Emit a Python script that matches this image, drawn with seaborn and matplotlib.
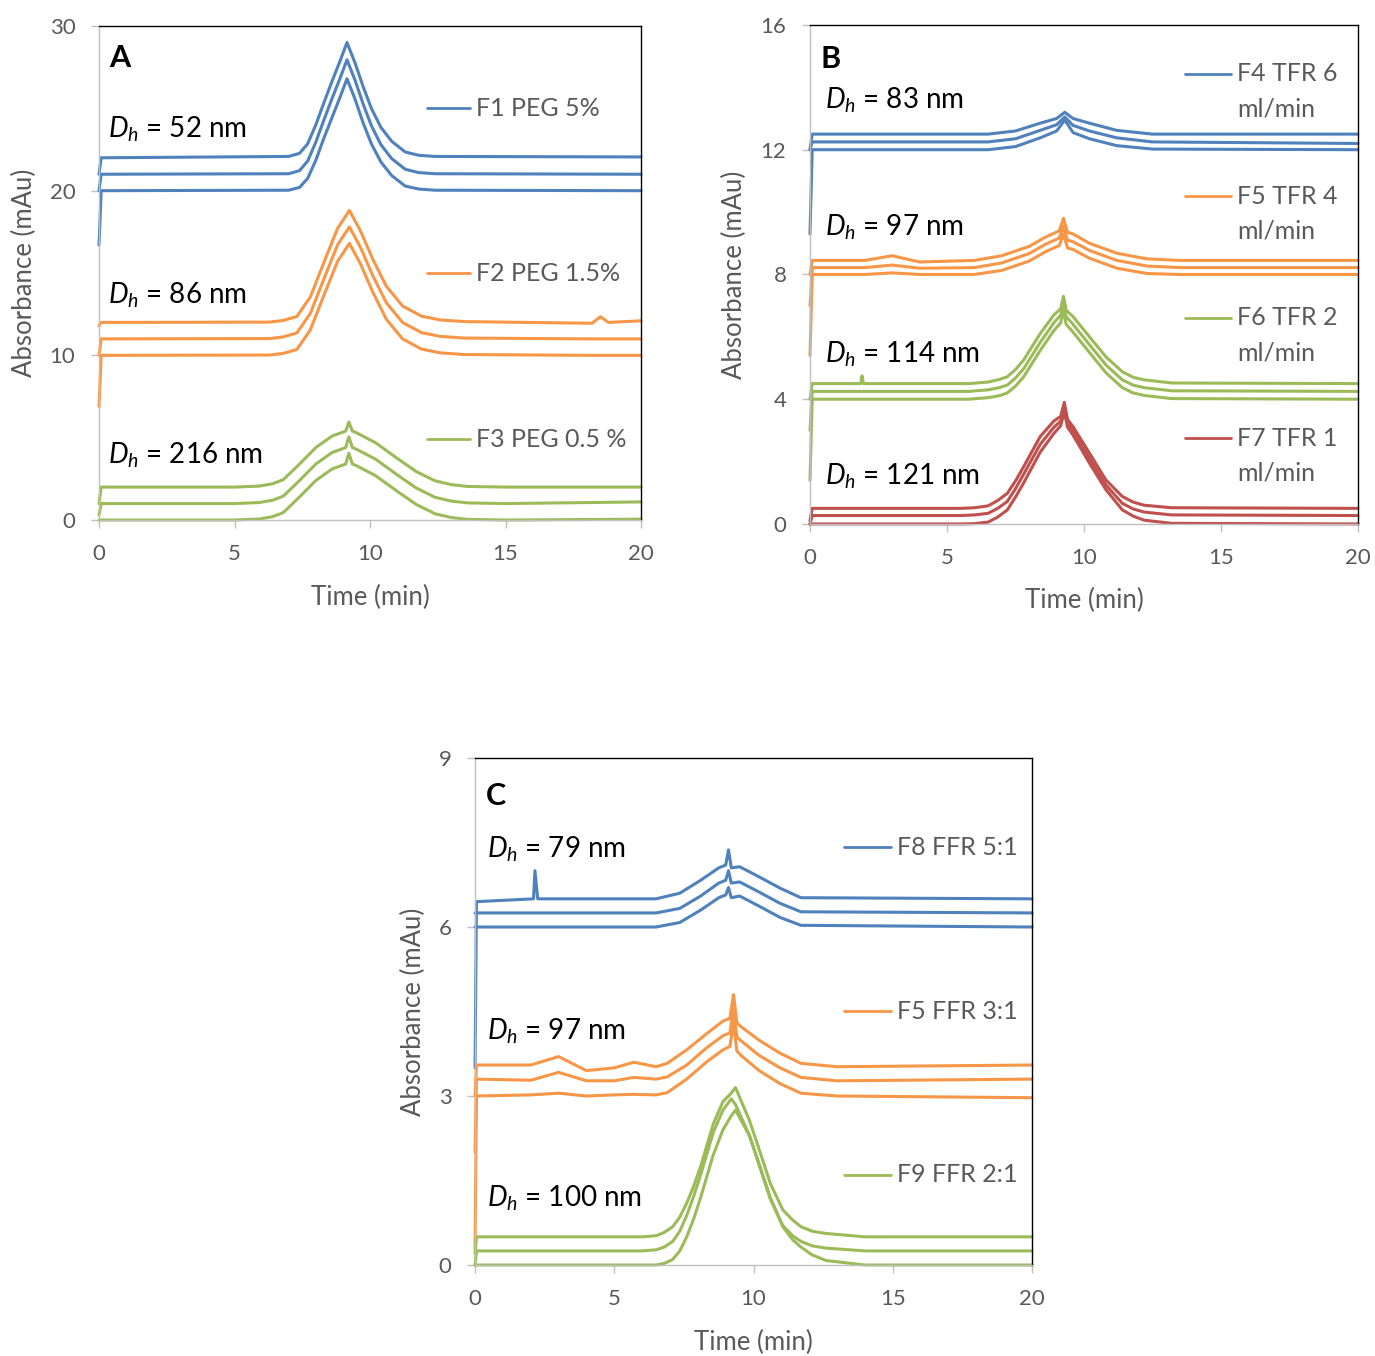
import numpy as np
import pandas as pd
import matplotlib
matplotlib.use('Agg')
import matplotlib.pyplot as plt
import seaborn as sns

# ---- panel A (PEG concentration) ----
t_f1 = [0, 0.08, 7.0, 7.4, 7.7, 8.0, 8.3, 8.6, 8.9, 9.15, 9.45, 9.75, 10.05, 10.4, 10.8, 11.3, 11.8, 12.4, 20]
f1_top = [21.0, 22.0, 22.08, 22.27, 22.85, 24.0, 25.35, 26.65, 27.9, 29.0, 27.75, 26.3, 25.0, 23.85, 23.0, 22.35, 22.15, 22.08, 22.05]
f1_mid = [20.0, 21.0, 21.03, 21.22, 21.8, 22.95, 24.3, 25.6, 26.85, 27.95, 26.7, 25.25, 23.95, 22.8, 21.95, 21.3, 21.1, 21.03, 21.0]
f1_low = [16.7, 20.0, 20.03, 20.2, 20.75, 21.85, 23.2, 24.45, 25.7, 26.8, 25.55, 24.1, 22.85, 21.75, 20.92, 20.28, 20.1, 20.03, 20.0]

t_f2 = [0, 0.08, 6.3, 6.8, 7.3, 7.8, 8.3, 8.8, 9.24, 9.65, 10.1, 10.6, 11.2, 11.9, 12.6, 13.5, 18.2, 18.5, 18.8, 20]
f2_top = [11.8, 12.0, 12.02, 12.12, 12.36, 13.55, 15.65, 17.7, 18.8, 17.55, 15.85, 14.2, 13.0, 12.38, 12.15, 12.05, 11.95, 12.35, 12.0, 12.1]
f2_mid = [10.0, 11.0, 11.02, 11.12, 11.36, 12.55, 14.65, 16.7, 17.8, 16.55, 14.85, 13.2, 12.0, 11.38, 11.15, 11.05, 11.0, 11.0, 11.0, 11.0]
f2_low = [6.9, 10.0, 10.02, 10.12, 10.36, 11.55, 13.65, 15.7, 16.8, 15.55, 13.85, 12.2, 11.0, 10.38, 10.15, 10.05, 10.0, 10.0, 10.0, 10.0]

t_f3 = [0, 0.08, 5.0, 5.9, 6.4, 6.8, 7.4, 8.0, 8.6, 9.1, 9.22, 9.35, 9.5, 10.2, 11.0, 11.7, 12.4, 13.0, 13.6, 15.0, 20]
f3_top = [1.0, 2.0, 2.0, 2.06, 2.2, 2.45, 3.4, 4.4, 5.1, 5.4, 5.95, 5.4, 5.3, 4.7, 3.75, 2.95, 2.38, 2.15, 2.04, 2.0, 2.0]
f3_mid = [0.3, 1.0, 1.0, 1.06, 1.2, 1.45, 2.4, 3.4, 4.1, 4.4, 5.05, 4.4, 4.3, 3.7, 2.75, 1.95, 1.38, 1.15, 1.04, 1.0, 1.1]
f3_low = [0.0, 0.0, 0.0, 0.06, 0.2, 0.45, 1.4, 2.4, 3.1, 3.4, 4.05, 3.4, 3.3, 2.7, 1.75, 0.95, 0.38, 0.15, 0.04, 0.0, 0.05]

# ---- panel B (total flow rate) ----
t_f4 = [0, 0.08, 6.5, 7.5, 8.4, 9.0, 9.3, 9.6, 10.2, 11.2, 12.5, 20]
f4_top = [12.0, 12.5, 12.5, 12.6, 12.85, 13.0, 13.2, 13.0, 12.85, 12.62, 12.5, 12.5]
f4_mid = [12.0, 12.25, 12.25, 12.35, 12.62, 12.8, 13.05, 12.78, 12.6, 12.38, 12.25, 12.2]
f4_low = [9.3, 12.0, 12.0, 12.1, 12.38, 12.6, 12.95, 12.55, 12.35, 12.13, 12.02, 12.0]

t_f5 = [0, 0.08, 2.0, 3.0, 4.0, 6.0, 7.0, 8.0, 8.6, 9.1, 9.25, 9.4, 9.6, 10.2, 11.2, 12.3, 13.5, 20]
f5_top = [8.0, 8.45, 8.45, 8.6, 8.4, 8.45, 8.6, 8.9, 9.2, 9.4, 9.8, 9.35, 9.3, 9.0, 8.68, 8.5, 8.45, 8.45]
f5_mid = [7.0, 8.22, 8.22, 8.3, 8.2, 8.22, 8.37, 8.67, 8.97, 9.17, 9.55, 9.1, 9.05, 8.77, 8.45, 8.27, 8.22, 8.22]
f5_low = [5.4, 8.0, 8.0, 8.05, 8.0, 8.0, 8.13, 8.43, 8.73, 8.93, 9.3, 8.85, 8.8, 8.52, 8.2, 8.03, 8.0, 8.0]

t_f6 = [0, 0.08, 1.85, 1.9, 1.95, 5.8, 6.5, 6.9, 7.2, 7.5, 7.8, 8.4, 8.9, 9.15, 9.25, 9.35, 9.6, 10.2, 10.8, 11.4, 11.8, 12.2, 13.2, 20]
f6_top = [4.0, 4.5, 4.5, 4.75, 4.5, 4.5, 4.55, 4.63, 4.72, 4.95, 5.26, 6.1, 6.7, 6.9, 7.3, 6.85, 6.65, 6.0, 5.36, 4.88, 4.7, 4.62, 4.52, 4.5]
f6_mid = [3.0, 4.25, 4.25, 4.25, 4.25, 4.25, 4.3, 4.37, 4.45, 4.68, 4.98, 5.82, 6.45, 6.7, 7.05, 6.65, 6.4, 5.75, 5.1, 4.62, 4.45, 4.37, 4.27, 4.25]
f6_low = [1.4, 4.0, 4.0, 4.0, 4.0, 4.0, 4.05, 4.11, 4.2, 4.42, 4.72, 5.56, 6.2, 6.45, 6.85, 6.4, 6.15, 5.5, 4.85, 4.37, 4.2, 4.12, 4.02, 4.0]

t_f7 = [0, 0.08, 5.5, 6.0, 6.5, 6.85, 7.2, 7.5, 7.8, 8.4, 8.9, 9.15, 9.28, 9.4, 9.6, 10.2, 10.8, 11.4, 11.8, 12.2, 13.2, 20]
f7_top = [0.1, 0.5, 0.5, 0.52, 0.58, 0.75, 0.98, 1.38, 1.84, 2.8, 3.3, 3.45, 3.9, 3.35, 3.12, 2.27, 1.41, 0.88, 0.7, 0.6, 0.52, 0.5]
f7_mid = [0.0, 0.27, 0.27, 0.29, 0.34, 0.5, 0.72, 1.13, 1.6, 2.55, 3.1, 3.3, 3.75, 3.25, 3.0, 2.1, 1.25, 0.66, 0.48, 0.38, 0.29, 0.27]
f7_low = [0.0, 0.0, 0.0, 0.01, 0.06, 0.22, 0.45, 0.86, 1.32, 2.3, 2.9, 3.15, 3.6, 3.1, 2.85, 1.95, 1.1, 0.45, 0.25, 0.12, 0.02, 0.0]

# ---- panel C (flow rate ratio) ----
t_f8 = [0, 0.05, 2.1, 2.15, 2.25, 6.5, 7.35, 8.1, 8.75, 9.0, 9.1, 9.2, 9.5, 10.2, 10.95, 11.7, 20]
f8_top = [3.5, 6.45, 6.5, 7.0, 6.5, 6.5, 6.6, 6.83, 7.05, 7.1, 7.37, 7.05, 7.07, 6.89, 6.69, 6.52, 6.5]
f8_mid = [6.25, 6.25, 6.25, 6.25, 6.25, 6.25, 6.33, 6.55, 6.78, 6.83, 7.0, 6.78, 6.8, 6.62, 6.42, 6.27, 6.25]
f8_low = [6.0, 6.0, 6.0, 6.0, 6.0, 6.0, 6.08, 6.3, 6.52, 6.57, 6.7, 6.52, 6.55, 6.37, 6.17, 6.03, 6.0]

t_f5c = [0, 0.05, 2.0, 3.0, 4.0, 5.0, 5.7, 6.5, 6.9, 7.6, 8.3, 8.9, 9.15, 9.28, 9.4, 9.55, 10.2, 10.95, 11.7, 13, 20]
f5c_top = [3.0, 3.55, 3.55, 3.7, 3.45, 3.5, 3.6, 3.52, 3.58, 3.82, 4.1, 4.33, 4.38, 4.8, 4.3, 4.23, 3.99, 3.76, 3.58, 3.52, 3.55]
f5c_mid = [2.0, 3.3, 3.28, 3.42, 3.27, 3.27, 3.33, 3.3, 3.34, 3.55, 3.85, 4.07, 4.12, 4.55, 4.05, 3.98, 3.72, 3.5, 3.33, 3.27, 3.3]
f5c_low = [0.3, 3.0, 3.02, 3.05, 3.0, 3.02, 3.03, 3.02, 3.06, 3.3, 3.6, 3.82, 3.88, 4.3, 3.8, 3.72, 3.45, 3.22, 3.05, 3.0, 2.97]

t_f9 = [0, 0.05, 6.0, 6.5, 6.8, 7.1, 7.35, 7.6, 7.85, 8.1, 8.55, 8.9, 9.2, 9.35, 9.85, 10.25, 10.6, 11.05, 11.4, 11.7, 12.1, 12.6, 14, 20]
f9_top = [0.2, 0.5, 0.5, 0.52, 0.58, 0.68, 0.85, 1.1, 1.4, 1.75, 2.5, 2.9, 3.05, 3.15, 2.57, 1.98, 1.45, 0.98, 0.8, 0.68, 0.6, 0.56, 0.5, 0.5]
f9_mid = [0.0, 0.25, 0.25, 0.27, 0.32, 0.42, 0.6, 0.88, 1.22, 1.6, 2.35, 2.75, 2.95, 2.85, 2.3, 1.7, 1.17, 0.7, 0.52, 0.42, 0.34, 0.3, 0.25, 0.25]
f9_low = [0.0, 0.0, 0.0, 0.0, 0.03, 0.1, 0.25, 0.5, 0.82, 1.2, 1.95, 2.4, 2.65, 2.75, 2.3, 1.72, 1.2, 0.68, 0.45, 0.32, 0.18, 0.08, 0.0, 0.0]

labels_a = ['F1 PEG 5%', 'F2 PEG 1.5%', 'F3 PEG 0.5 %']
labels_b = ['F4 TFR 6', 'F5 TFR 4', 'F6 TFR 2', 'F7 TFR 1']
labels_c = ['F8 FFR 5:1', 'F5 FFR 3:1', 'F9 FFR 2:1']
dh_a = ['52', '86', '216']
dh_b = ['83', '97', '114', '121']
dh_c = ['79', '97', '100']

BLUE, ORANGE, GREEN, RED = '#4F81BD', '#F79646', '#9BBB59', '#C0504D'
GREY = '#595959'

groups = [
    ('A', 'F1', t_f1, [f1_low, f1_mid, f1_top]),
    ('A', 'F2', t_f2, [f2_low, f2_mid, f2_top]),
    ('A', 'F3', t_f3, [f3_low, f3_mid, f3_top]),
    ('B', 'F4', t_f4, [f4_low, f4_mid, f4_top]),
    ('B', 'F5', t_f5, [f5_low, f5_mid, f5_top]),
    ('B', 'F6', t_f6, [f6_low, f6_mid, f6_top]),
    ('B', 'F7', t_f7, [f7_low, f7_mid, f7_top]),
    ('C', 'F8', t_f8, [f8_low, f8_mid, f8_top]),
    ('C', 'F5c', t_f5c, [f5c_low, f5c_mid, f5c_top]),
    ('C', 'F9', t_f9, [f9_low, f9_mid, f9_top]),
]
rows = []
for panel, grp, t, traces in groups:
    for k, vals in enumerate(traces):
        for ti, vi in zip(t, vals):
            rows.append((panel, grp, f'{grp}_{k}', ti, vi))
df = pd.DataFrame(rows, columns=['panel', 'group', 'trace', 'time', 'absorbance'])

palette = {'F1': BLUE, 'F2': ORANGE, 'F3': GREEN, 'F4': BLUE, 'F5': ORANGE,
           'F6': GREEN, 'F7': RED, 'F8': BLUE, 'F5c': ORANGE, 'F9': GREEN}

sns.set_theme(style='white')
plt.rcParams['font.family'] = ['Lato', 'DejaVu Sans']
plt.rcParams['mathtext.fontset'] = 'custom'
plt.rcParams['mathtext.it'] = 'Lato:italic'
plt.rcParams['mathtext.rm'] = 'Lato'

fig = plt.figure(figsize=(13.75, 13.56), dpi=100)
ax_a = fig.add_axes([0.0720, 0.6165, 0.3942, 0.3643])
ax_b = fig.add_axes([0.5891, 0.6136, 0.3985, 0.3680])
ax_c = fig.add_axes([0.3455, 0.0671, 0.4051, 0.3739])


def draw_panel(ax, panel, ymax, ystep, letter, letter_y, ylab_x, xlab_y):
    sub = df[df['panel'] == panel]
    sns.lineplot(data=sub, x='time', y='absorbance', hue='group', units='trace',
                 estimator=None, palette=palette, legend=False, sort=False,
                 linewidth=2.2, ax=ax)
    for ln in ax.lines:
        ln.set_clip_on(False)
    ax.set_xlim(0, 20)
    ax.set_ylim(0, ymax)
    ax.set_xticks(range(0, 21, 5))
    ax.set_yticks(np.arange(0, ymax + 0.01, ystep))
    ax.set_yticklabels([f'{v:g}' for v in np.arange(0, ymax + 0.01, ystep)])
    ax.tick_params(axis='both', bottom=True, left=True, direction='out', length=6,
                   width=1, color='#BFBFBF', labelsize=16, labelcolor=GREY, pad=11)
    for s in ['top', 'right']:
        ax.spines[s].set_color('#000000')
        ax.spines[s].set_linewidth(1.0)
    for s in ['left', 'bottom']:
        ax.spines[s].set_color('#BFBFBF')
        ax.spines[s].set_linewidth(1.0)
    ax.set_xlabel('Time (min)', fontsize=18.5, color=GREY, va='center')
    ax.set_ylabel('Absorbance (mAu)', fontsize=18.5, color=GREY, va='center')
    ax.xaxis.set_label_coords(0.5, xlab_y)
    ax.yaxis.set_label_coords(ylab_x, 0.5)
    ax.text(0.019, letter_y, letter, transform=ax.transAxes, fontsize=22,
            fontweight='bold', color='black', va='baseline', ha='left')


def add_key(ax, x0, x1, y, color, label, second=None, dy=0.07):
    ax.plot([x0, x1], [y, y], color=color, lw=2.0, transform=ax.transAxes, clip_on=False)
    ax.text(x1 + 0.011, y, label, transform=ax.transAxes, fontsize=18,
            color=GREY, va='center', ha='left')
    if second:
        ax.text(x1 + 0.011, y - dy, second, transform=ax.transAxes, fontsize=18,
                color=GREY, va='center', ha='left')


def add_dh(ax, x, y, val):
    ax.text(x, y, r'$D_h$' + f' = {val} nm', transform=ax.transAxes, fontsize=20,
            color='black', va='baseline', ha='left')


draw_panel(ax_a, 'A', 30, 10, 'A', 0.917, -0.137, -0.156)
draw_panel(ax_b, 'B', 16, 4, 'B', 0.914, -0.137, -0.154)
draw_panel(ax_c, 'C', 9, 3, 'C', 0.907, -0.111, -0.152)

for lab, col, y in zip(labels_a, [BLUE, ORANGE, GREEN], [0.834, 0.500, 0.164]):
    add_key(ax_a, 0.605, 0.685, y, col, lab)
for val, y in zip(dh_a, [0.775, 0.439, 0.115]):
    add_dh(ax_a, 0.017, y, val)

for lab, col, y in zip(labels_b, [BLUE, ORANGE, GREEN, RED], [0.902, 0.657, 0.413, 0.172]):
    add_key(ax_b, 0.684, 0.768, y, col, lab, 'ml/min')
for val, y in zip(dh_b, [0.833, 0.578, 0.323, 0.0785]):
    add_dh(ax_b, 0.027, y, val)

for lab, col, y in zip(labels_c, [BLUE, ORANGE, GREEN], [0.824, 0.501, 0.178]):
    add_key(ax_c, 0.663, 0.747, y, col, lab)
for val, y in zip(dh_c, [0.804, 0.444, 0.115]):
    add_dh(ax_c, 0.0215, y, val)

fig.savefig('out.png', dpi=100, facecolor='white')
